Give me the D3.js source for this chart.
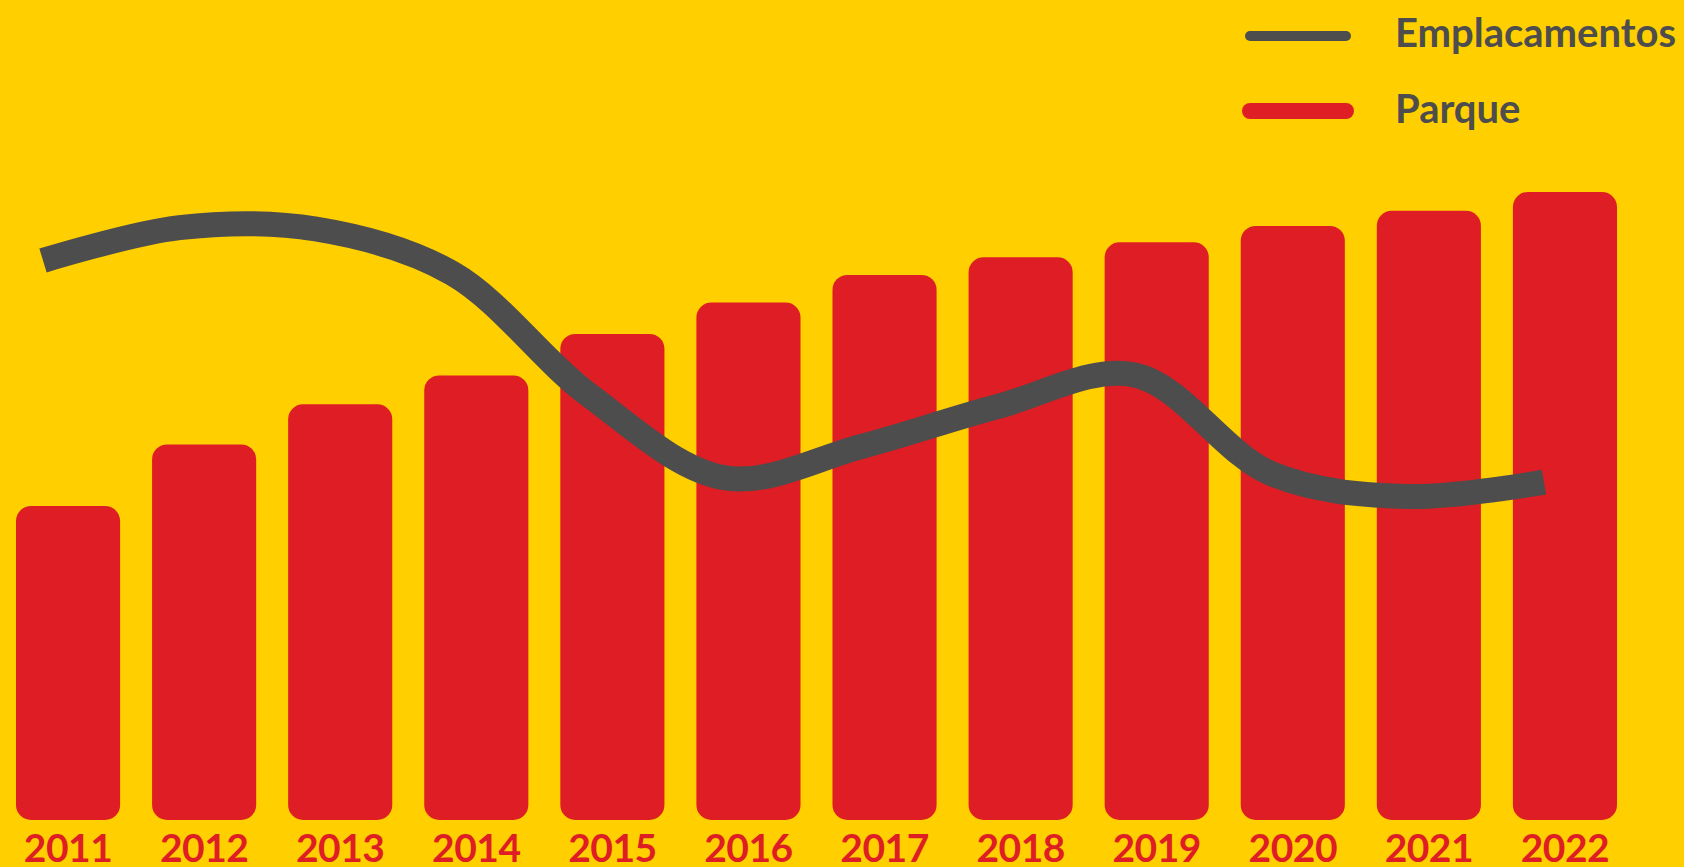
<!DOCTYPE html>
<html>
<head>
<meta charset="utf-8">
<script src="https://cdn.jsdelivr.net/npm/d3@7"></script>
<style>
  html, body { margin: 0; padding: 0; background: #ffcf00; overflow: hidden; }
  svg { display: block; }
  text { font-family: Lato, "Open Sans", sans-serif; font-weight: 700; }
</style>
</head>
<body>
<div id="chart"></div>
<script>
// anos
const years = ["2011","2012","2013","2014","2015","2016","2017","2018","2019","2020","2021","2022"];
// parque (escala relativa)
const parque = [25.0, 29.9, 33.1, 35.4, 38.7, 41.2, 43.4, 44.8, 46.0, 47.3, 48.5, 50.0];
// emplacamentos (milhoes)
const emplacamentos = [3.57, 3.80, 3.79, 3.48, 2.63, 2.05, 2.27, 2.55, 2.77, 2.08, 1.92, 2.02];
const legendItems = ["Emplacamentos", "Parque"];

const w = 1684, h = 867;
const red = "#de1e24", gray = "#4d4d4d";

const svg = d3.select("#chart").append("svg")
    .attr("width", w)
    .attr("height", h);

svg.append("rect").attr("width", w).attr("height", h).attr("fill", "#ffcf00");

const xScale = d3.scaleBand()
    .domain(years)
    .range([16, 1617])
    .paddingInner(0.235)
    .paddingOuter(0);

const yScale = d3.scaleLinear()
    .domain([0, 50])
    .range([820, 192]);

const xLine = d3.scalePoint()
    .domain(years)
    .range([43, 1544]);

const yLine = d3.scaleLinear()
    .domain([0, 4])
    .range([771, 199]);

// barras com cantos arredondados
svg.selectAll(".bar")
    .data(parque)
    .enter()
    .append("rect")
    .attr("class", "bar")
    .attr("x", (d, i) => xScale(years[i]))
    .attr("y", d => yScale(d))
    .attr("width", xScale.bandwidth())
    .attr("height", d => yScale(0) - yScale(d))
    .attr("rx", 15)
    .attr("fill", red);

// linha
const line = d3.line()
    .x((d, i) => xLine(years[i]))
    .y(d => yLine(d))
    .curve(d3.curveCatmullRom.alpha(0.5));

svg.append("path")
    .datum(emplacamentos)
    .attr("d", line)
    .attr("fill", "none")
    .attr("stroke", gray)
    .attr("stroke-width", 25)
    .attr("stroke-linecap", "butt");

// eixo x (anos)
const xAxis = d3.axisBottom(xScale).tickSize(0).tickPadding(0);
const gx = svg.append("g")
    .attr("transform", "translate(0,832)")
    .call(xAxis);
gx.select(".domain").remove();
gx.selectAll("text")
    .attr("fill", red)
    .attr("font-size", 39)
    .attr("letter-spacing", -0.5)
    .attr("dy", "0.72em")
    .attr("y", 2);

// legenda
const legend = svg.append("g");
const legColors = [gray, red];
const legY = [36, 111];
const legW = [10, 16];

legend.selectAll("line")
    .data(legendItems)
    .enter()
    .append("line")
    .attr("x1", 1250)
    .attr("x2", 1346)
    .attr("y1", (d, i) => legY[i])
    .attr("y2", (d, i) => legY[i])
    .attr("stroke", (d, i) => legColors[i])
    .attr("stroke-width", (d, i) => legW[i])
    .attr("stroke-linecap", "round");

legend.selectAll("text")
    .data(legendItems)
    .enter()
    .append("text")
    .attr("x", 1395)
    .attr("y", (d, i) => i == 0 ? 47 : 123)
    .attr("font-size", 40)
    .attr("fill", gray)
    .text(d => d);
</script>
</body>
</html>
